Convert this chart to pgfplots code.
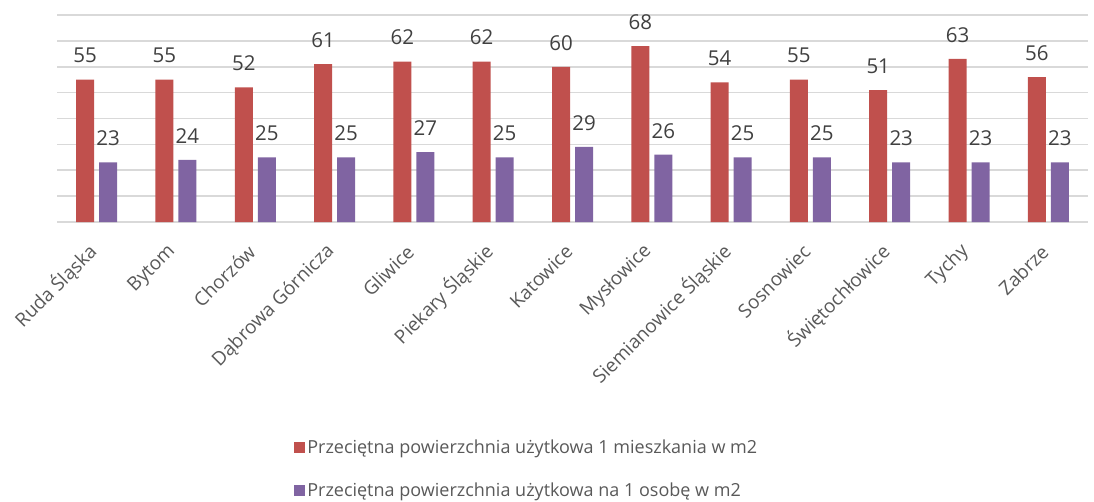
\documentclass[border=0pt]{standalone}
\usepackage{fontspec}
\setmainfont{Open Sans}
\usepackage{pgfplots}
\pgfplotsset{compat=1.18}

\definecolor{barred}{HTML}{C0504D}
\definecolor{barviolet}{HTML}{8064A2}
\definecolor{gridgray}{HTML}{D9D9D9}
\definecolor{labeltext}{HTML}{404040}
\definecolor{ticktext}{HTML}{595959}

\begin{document}
\begin{tikzpicture}
\begin{axis}[
  at={(0bp,0bp)}, anchor=south west,
  scale only axis,
  width=1031bp, height=207bp,
  ybar=5bp, bar width=18bp,
  xmin=-0.5, xmax=12.5,
  ymin=0, ymax=80,
  xtick=data,
  xticklabels={Ruda Śląska, Bytom, Chorzów, Dąbrowa Górnicza, Gliwice, Piekary Śląskie, Katowice, Mysłowice, Siemianowice Śląskie, Sosnowiec, Świętochłowice, Tychy, Zabrze},
  xticklabel style={xshift=-1bp, yshift=-24bp, rotate=45, anchor=east,
    font=\fontsize{19bp}{22bp}\selectfont, text=ticktext},
  ytick={0,10,...,80}, yticklabels={},
  major tick length=0pt,
  ymajorgrids,
  major grid style={draw=gridgray, line width=1.6bp},
  axis line style={draw=none},
  /pgf/number format/assume math mode=true,
  nodes near coords,
  nodes near coords align={center},
  every node near coord/.append style={yshift=24bp,
    font=\fontsize{20.5bp}{23bp}\selectfont, text=labeltext},
  legend style={at={(0.23,-1.04)}, anchor=north west, draw=none, fill=none,
    font=\fontsize{18bp}{21bp}\selectfont, text=ticktext,
    row sep=24bp, inner sep=0pt},
  legend cell align=left,
  legend image code/.code={\draw[#1, draw=none] (0bp,-5.5bp) rectangle (11bp,5.5bp);},
]
\addplot[fill=barred, draw=none] coordinates {
(0,55) (1,55) (2,52) (3,61) (4,62) (5,62) (6,60) (7,68) (8,54) (9,55) (10,51) (11,63) (12,56)
};
\addplot[fill=barviolet, draw=none] coordinates {
(0,23) (1,24) (2,25) (3,25) (4,27) (5,25) (6,29) (7,26) (8,25) (9,25) (10,23) (11,23) (12,23)
};
\legend{Przeciętna powierzchnia użytkowa 1 mieszkania w m2, Przeciętna powierzchnia użytkowa na 1 osobę w m2}
\end{axis}
\useasboundingbox (-57bp,-280bp) rectangle (1037bp,222bp);
\end{tikzpicture}
\end{document}
